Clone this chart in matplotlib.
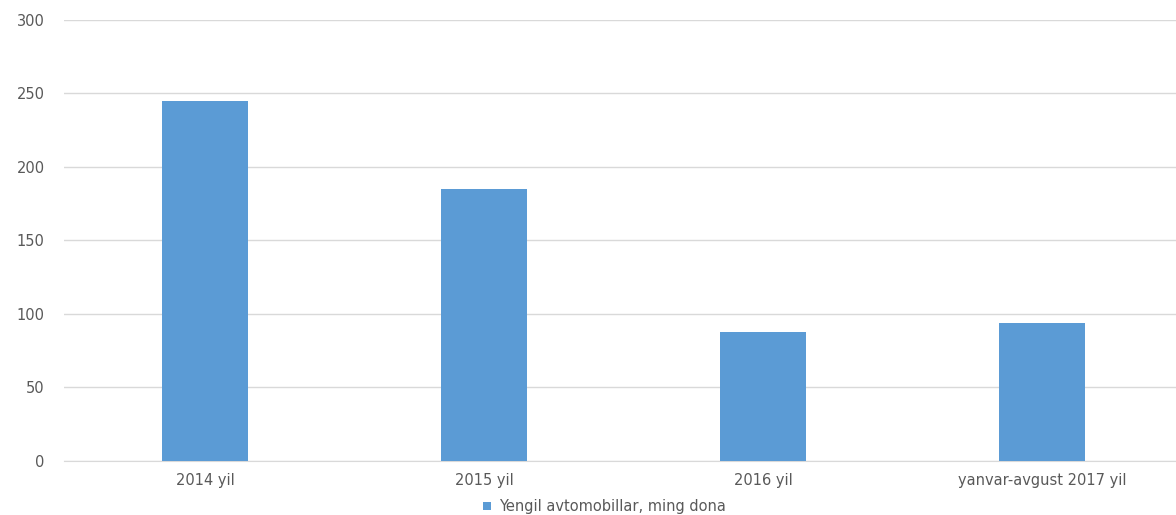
"""
Yengil avtomobillar bar chart (ming dona).
"""
import matplotlib
matplotlib.use("Agg")
import matplotlib.pyplot as plt
from matplotlib.patches import Patch

categories = ["2014 yil", "2015 yil", "2016 yil", "yanvar-avgust 2017 yil"]
values = [245, 185, 88, 94]
series_name = "Yengil avtomobillar, ming dona"
y_ticks = [0, 50, 100, 150, 200, 250, 300]

bar_color = "#5B9BD5"
text_color = "#595959"
grid_color = "#D9D9D9"

# wide font to get close to the stretched look of the original
plt.rcParams["font.family"] = ["DejaVu Sans"]

fig = plt.figure(figsize=(11.76, 5.15), dpi=100)
ax = fig.add_axes([0.0544, 0.1049, 0.9456, 0.8563])

x = list(range(len(categories)))
ax.bar(x, values, width=0.31, color=bar_color, zorder=3)

ax.set_xlim(-0.505, 3.48)
ax.set_ylim(0, 300)
ax.set_yticks(y_ticks)
ax.set_xticks(x)
ax.set_xticklabels(categories)
ax.tick_params(axis="both", length=0, colors=text_color, labelsize=10.5)
ax.tick_params(axis="y", pad=14)
ax.tick_params(axis="x", pad=9)

ax.grid(axis="y", color=grid_color, linewidth=1, zorder=0)
for side in ["top", "right", "left"]:
    ax.spines[side].set_visible(False)
ax.spines["bottom"].set_color(grid_color)

handle = Patch(facecolor=bar_color, label=series_name)
fig.legend(handles=[handle], loc="center", bbox_to_anchor=(0.514, 0.016),
           frameon=False, fontsize=10.5, labelcolor=text_color,
           handlelength=0.55, handleheight=0.55, handletextpad=0.6)

fig.savefig("out.png", dpi=100)
